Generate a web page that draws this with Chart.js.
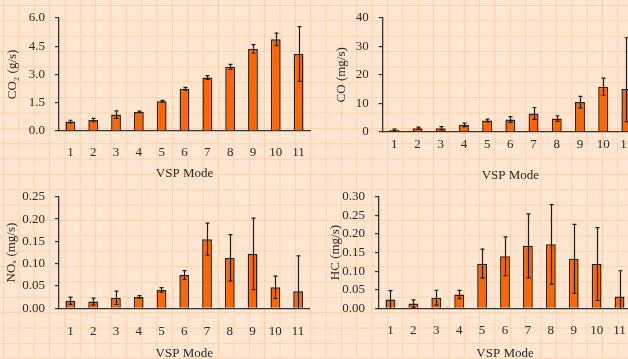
<!DOCTYPE html>
<html>
<head>
<meta charset="utf-8">
<script src="https://cdn.jsdelivr.net/npm/chart.js@4.4.1/dist/chart.umd.min.js"></script>
<style>
  html, body { margin: 0; padding: 0; }
  body {
    width: 628px; height: 359px; overflow: hidden; position: relative;
    background-color: #FFE6D1;
    background-image:
      linear-gradient(90deg, #FBD1AB 1.2px, transparent 1.2px),
      linear-gradient(180deg, #FBD1AB 1.2px, transparent 1.2px);
    background-size: 15.37px 15.37px;
    background-position: 3px 5px;
  }
  canvas { position: absolute; }
</style>
</head>
<body>
<canvas id="c1" width="320" height="181" style="left:0px;top:0px"></canvas>
<canvas id="c2" width="328" height="183" style="left:320px;top:0px"></canvas>
<canvas id="c3" width="320" height="182" style="left:0px;top:179px"></canvas>
<canvas id="c4" width="321" height="182" style="left:320px;top:179px"></canvas>
<script>
// ---- data ----
const vspModes = ['1','2','3','4','5','6','7','8','9','10','11'];

const co2Values = [0.50, 0.58, 0.87, 1.01, 1.58, 2.24, 2.84, 3.40, 4.35, 4.86, 4.08];
const co2Err    = [0.07, 0.09, 0.20, 0.04, 0.04, 0.07, 0.10, 0.13, 0.23, 0.33, 1.45];
const co2Ticks  = ['0.0', '1.5', '3.0', '4.5', '6.0'];

const coValues  = [0.6, 1.2, 1.2, 2.4, 3.9, 4.3, 6.4, 4.6, 10.4, 15.8, 15.0];
const coErrUp   = [0.3, 0.4, 0.6, 0.6, 0.5, 1.0, 2.1, 1.0, 2.0, 3.0, 18.0];
const coErrDown = [0.3, 0.4, 0.6, 0.6, 0.5, 1.0, 2.1, 1.0, 2.0, 3.0, 11.5];
const coTicks   = ['0', '10', '20', '30', '40'];

const noxValues = [0.017, 0.015, 0.0235, 0.0256, 0.0412, 0.0746, 0.155, 0.113, 0.122, 0.047, 0.0385];
const noxErr    = [0.008, 0.008, 0.015, 0.003, 0.005, 0.010, 0.036, 0.052, 0.080, 0.025, 0.079];
const noxTicks  = ['0.00', '0.05', '0.10', '0.15', '0.20', '0.25'];

const hcValues  = [0.0234, 0.0126, 0.0285, 0.037, 0.120, 0.140, 0.168, 0.172, 0.133, 0.119, 0.032];
const hcErr     = [0.024, 0.010, 0.020, 0.011, 0.039, 0.052, 0.086, 0.107, 0.093, 0.098, 0.069];
const hcTicks   = ['0.00', '0.05', '0.10', '0.15', '0.20', '0.25', '0.30'];

// ---- styling ----
const FONT = { family: "'Liberation Serif', 'Times New Roman', serif", size: 13 };
const TEXT = '#2a2a2a';
const AXIS = '#333333';

const errorBars = {
  id: 'errorBars',
  afterDatasetsDraw(chart) {
    const ctx = chart.ctx;
    const ds = chart.data.datasets[0];
    const meta = chart.getDatasetMeta(0);
    const ys = chart.scales.y;
    const a = chart.chartArea;
    ctx.save();
    ctx.beginPath();
    ctx.rect(a.left, a.top - 6, a.right - a.left, a.bottom - a.top + 6);
    ctx.clip();
    ctx.strokeStyle = '#1c1c1c';
    ctx.lineWidth = 1.2;
    meta.data.forEach((bar, i) => {
      const v = ds.data[i];
      const top = v + ds.errUp[i];
      const bot = v - ds.errDown[i];
      const yHi = ys.getPixelForValue(top);
      const yLo = ys.getPixelForValue(Math.max(0, bot));
      const x = Math.round(bar.x) + 0.5;
      ctx.beginPath();
      ctx.moveTo(x, yHi); ctx.lineTo(x, yLo);
      ctx.moveTo(x - 2, yHi); ctx.lineTo(x + 2, yHi);
      if (bot > 0) { ctx.moveTo(x - 2, yLo); ctx.lineTo(x + 2, yLo); }
      ctx.stroke();
    });
    ctx.restore();
  }
};

function makeChart(id, values, errUp, errDown, yMax, yStep, tickLabels, yTitle, L) {
  return new Chart(document.getElementById(id), {
    type: 'bar',
    data: {
      labels: vspModes,
      datasets: [{
        data: values, errUp: errUp, errDown: errDown,
        backgroundColor: '#FF6600',
        borderColor: '#2b2018',
        borderWidth: 1.5,
        borderSkipped: 'bottom',
        categoryPercentage: 1.0,
        barPercentage: 0.43
      }]
    },
    options: {
      responsive: false,
      animation: false,
      devicePixelRatio: 1,
      layout: { padding: { top: L.padTop, right: L.padRight, left: 0, bottom: 0 } },
      plugins: { legend: { display: false }, tooltip: { enabled: false } },
      scales: {
        x: {
          offset: true,
          grid: { display: false, drawTicks: false },
          border: { display: true, color: AXIS, width: 1.3 },
          ticks: { font: FONT, color: TEXT, padding: L.xPad, maxRotation: 0, autoSkip: false },
          title: { display: true, text: 'VSP Mode', font: FONT, color: TEXT, padding: { top: 0, bottom: 0 } },
          afterFit(s) { s.height = L.xHeight; }
        },
        y: {
          min: 0, max: yMax,
          grid: { display: true, drawOnChartArea: false, drawTicks: true, tickLength: 4, color: AXIS, lineWidth: 1.2 },
          border: { display: true, color: AXIS, width: 1.3 },
          ticks: {
            stepSize: yStep, font: FONT, color: TEXT, padding: 10, autoSkip: false,
            callback: (v, i) => tickLabels[i]
          },
          title: { display: true, text: yTitle, font: FONT, color: TEXT, padding: { top: L.titlePad, bottom: 0 } },
          afterFit(s) { s.width = L.yWidth; }
        }
      }
    },
    plugins: [errorBars]
  });
}

makeChart('c1', co2Values, co2Err, co2Err, 6, 1.5, co2Ticks, 'CO\u2082 (g/s)',
  { padTop: 13.3, padRight: 10, yWidth: 59, xHeight: 50, xPad: 14, titlePad: 5 });
makeChart('c2', coValues, coErrUp, coErrDown, 40, 10, coTicks, 'CO (mg/s)',
  { padTop: 14, padRight: 10, yWidth: 62.7, xHeight: 51.3, xPad: 5, titlePad: 14 });
makeChart('c3', noxValues, noxErr, noxErr, 0.25, 0.05, noxTicks, 'NO\u2093 (mg/s)',
  { padTop: 12, padRight: 10.5, yWidth: 59, xHeight: 52.7, xPad: 15, titlePad: 4.2 });
makeChart('c4', hcValues, hcErr, hcErr, 0.30, 0.05, hcTicks, 'HC (mg/s)',
  { padTop: 10, padRight: 10, yWidth: 59, xHeight: 52.7, xPad: 14, titlePad: 7.5 });
</script>
</body>
</html>
